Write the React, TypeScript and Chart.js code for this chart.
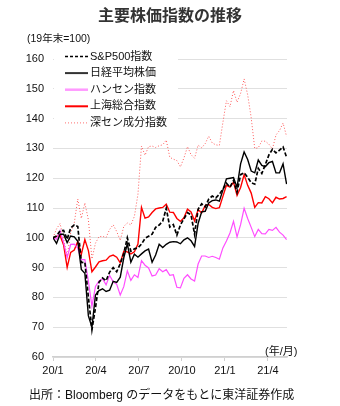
import React, { useEffect, useRef } from "react";
import { Chart, registerables } from "chart.js";

Chart.register(...registerables);

// x position of each point, in months after 2020/1 (about one point per week)
const STEP = 0.247;
const xTickValues = [0, 3, 6, 9, 12, 15];
const xTickLabels = ["20/1", "20/4", "20/7", "20/10", "21/1", "21/4"];

const seriesNames = ["S&P500指数", "日経平均株価", "ハンセン指数", "上海総合指数", "深セン成分指数"];

const sp500 = [100, 100.6, 102.3, 102.5, 99.5, 103.3, 104.3, 103.8, 91.7, 91.8,
  80, 69.2, 76.5, 85.1, 86.5, 85.6, 88.5, 90, 88.6, 91.3,
  94.8, 100, 95.5, 96.3, 96.6, 97.9, 99.8, 100.5, 101.2, 103.5,
  104.3, 105.6, 109.9, 103.6, 104.4, 100.9, 104.3, 106.4, 108.4, 107.7,
  101.2, 109.6, 111.4, 110.4, 113, 114, 113.4, 114.6, 116.3, 118.3,
  117, 119.2, 115.3, 121.2, 121.8, 120.3, 118.5, 118, 123.3, 121.6,
  124.6, 127.8, 129.7, 128.5, 129.4, 130.5, 127];

const nikkei = [100, 98.1, 101.2, 101.2, 98.4, 100.6, 100.3, 98.8, 89.4, 88.1,
  73.8, 70, 80.8, 82.3, 82.9, 82, 82.4, 85.4, 85, 86.8,
  93.3, 98, 91.8, 94.5, 93.5, 94.6, 95.6, 96.2, 91.8, 94.2,
  97.8, 96.7, 97.8, 98.5, 98.7, 98.6, 98, 99.3, 100, 99,
  97.1, 104.8, 108.7, 108.9, 111.7, 112.5, 112.7, 112.3, 116, 119.8,
  120, 120.2, 116.9, 124.8, 128.8, 126.3, 122.4, 121.8, 126.1, 124.3,
  123.9, 125.2, 125.6, 121.8, 121.8, 124.8, 118];

const hangSeng = [100, 99.5, 102.4, 98.4, 93.3, 97.8, 97.9, 96.5, 92.7, 92.7,
  85.5, 77, 83.7, 85.5, 86.3, 84.2, 87.4, 85.2, 84.4, 80.8,
  83.6, 88.9, 85.7, 87.6, 86.7, 92.3, 90.8, 89.9, 87.2, 87.5,
  89.6, 88.6, 89.3, 87.4, 87.6, 83.4, 83.2, 86.4, 87.6, 86.2,
  85.5, 91.2, 93.9, 93.9, 93.4, 93.8, 93.4, 92.8, 96.6, 98.9,
  101.6, 105.5, 100.3, 104.4, 109.9, 106.5, 103.5, 100.4, 102.8, 101.4,
  101.3, 102.8, 102.5, 103.5, 101.9, 100.9, 99.4];

const shanghai = [100, 100.5, 100.8, 97.6, 90.1, 95.1, 95.9, 98.8, 94.4, 99.4,
  95.7, 88.6, 90.2, 91.9, 92.3, 92.5, 93.8, 94.2, 93.5, 91.6,
  95.5, 95.3, 94.6, 95.3, 97.9, 110.2, 106.6, 107, 108.5, 109.7,
  110, 110.2, 111.3, 108.6, 108.5, 106.5, 105.5, 106.7, 109.6, 108.7,
  105.7, 109.4, 108.4, 110.8, 111.2, 110.2, 109.8, 110.1, 113.9, 117.6,
  117, 118.7, 114.2, 116.9, 121.2, 117.6, 115, 110.2, 111.8, 111.7,
  113.8, 113.1, 111.7, 113.6, 113, 113.2, 113.8];

const shenzhen = [100, 103, 104.8, 99.6, 93.8, 101.7, 104.9, 113, 106.5, 111.7,
  106, 92.9, 98.2, 100.4, 100.5, 100.1, 102.8, 104.4, 102.1, 99.1,
  103.8, 105, 104.3, 107.2, 114.6, 130.8, 127.7, 130.6, 130.8, 130.3,
  130.9, 131.2, 132.8, 127, 126.4, 125.9, 123.8, 126.8, 130.6, 127.9,
  126.7, 131.1, 130.2, 131.6, 134.1, 131.8, 131.2, 131, 138.7, 146,
  144, 149.4, 145.5, 148.4, 153.3, 148, 140.3, 130, 130.2, 132.5,
  132.4, 131.4, 129.8, 134.5, 136, 138.5, 134];

const seriesValues = [sp500, nikkei, hangSeng, shanghai, shenzhen];
const seriesColors = ["#000000", "#000000", "#ff4dff", "#ff0000", "#ff5a5a"];
const seriesWidths = [1.7, 1.4, 1.2, 1.4, 1];
const seriesDash: number[][] = [[4, 2], [], [], [], [1, 2]];
const legendWidths = [1.5, 2, 2.5, 2, 1];
const legendColors = ["#000000", "#333333", "#ff99ff", "#ff0000", "#ff7070"];

const FONT = '"Liberation Sans", Arial, "Noto Sans CJK JP", sans-serif';

const insideLegend = {
  id: "insideLegend",
  afterDatasetsDraw(chart: any) {
    const ctx = chart.ctx;
    const a = chart.chartArea;
    ctx.save();
    ctx.fillStyle = "#ffffff";
    ctx.fillRect(a.left + 1, 46, 177 - a.left, 85);
    ctx.font = `11px ${FONT}`;
    ctx.textBaseline = "middle";
    ctx.textAlign = "left";
    seriesNames.forEach((name, i) => {
      const y = 56.5 + i * 16.6;
      ctx.beginPath();
      ctx.strokeStyle = legendColors[i];
      ctx.lineWidth = legendWidths[i];
      ctx.setLineDash(i === 0 ? [3, 2] : seriesDash[i]);
      ctx.moveTo(65, y);
      ctx.lineTo(88, y);
      ctx.stroke();
      ctx.setLineDash([]);
      ctx.fillStyle = "#111111";
      ctx.fillText(name, 90, y);
    });
    ctx.restore();
  },
};

export default function App() {
  const ref = useRef<HTMLCanvasElement | null>(null);

  useEffect(() => {
    if (!ref.current) return;
    const datasets = seriesValues.map((vals, s) => ({
      label: seriesNames[s],
      data: vals.map((v, i) => ({ x: i * STEP, y: v })),
      borderColor: seriesColors[s],
      backgroundColor: seriesColors[s],
      borderWidth: seriesWidths[s],
      borderDash: seriesDash[s],
      pointRadius: 0,
      tension: 0,
      fill: false,
    }));
    const chart = new Chart(ref.current, {
      type: "line",
      data: { datasets },
      plugins: [insideLegend],
      options: {
        animation: false,
        responsive: false,
        devicePixelRatio: 1,
        layout: { padding: { top: 59, right: 53, left: 0, bottom: 29 } },
        plugins: { legend: { display: false }, tooltip: { enabled: false } },
        scales: {
          x: {
            type: "linear",
            min: 0,
            max: 16.33,
            afterBuildTicks: (scale: any) => {
              scale.ticks = xTickValues.map((v) => ({ value: v }));
            },
            afterFit: (scale: any) => {
              scale.height = 20;
            },
            grid: {
              display: true,
              drawOnChartArea: false,
              drawTicks: true,
              tickLength: 4,
              color: "#d0d0d0",
            },
            border: { display: true, color: "#d0d0d0", width: 1.5 },
            ticks: {
              autoSkip: false,
              maxRotation: 0,
              padding: 3,
              color: "#111111",
              font: { family: FONT, size: 11 },
              callback: (value: any) => {
                const k = xTickValues.indexOf(Number(value));
                return k >= 0 ? xTickLabels[k] : "";
              },
            },
          },
          y: {
            min: 60,
            max: 160,
            afterFit: (scale: any) => {
              scale.width = 53;
            },
            grid: { color: "#e0e0e0", drawTicks: false, lineWidth: 1 },
            border: { display: false },
            ticks: {
              stepSize: 10,
              padding: 9,
              color: "#111111",
              font: { family: FONT, size: 11 },
            },
          },
        },
      },
    });
    return () => chart.destroy();
  }, []);

  const base: React.CSSProperties = {
    position: "absolute",
    fontFamily: FONT,
    whiteSpace: "nowrap",
  };

  return (
    <div style={{ position: "absolute", left: 0, top: 0, width: 340, height: 406, background: "#fff" }}>
      <canvas ref={ref} width={340} height={406} style={{ position: "absolute", left: 0, top: 0, width: 340, height: 406 }} />
      <div style={{ ...base, left: 0, top: 4, width: 340, textAlign: "center", fontSize: 16, fontWeight: "bold", lineHeight: "24px", color: "#333" }}>
        主要株価指数の推移
      </div>
      <div style={{ ...base, left: 27, top: 31, fontSize: 10.5, lineHeight: "14px", color: "#111" }}>(19年末=100)</div>
      <div style={{ ...base, left: 265, top: 344, fontSize: 11, lineHeight: "14px", color: "#111" }}>(年/月)</div>
      <div style={{ ...base, left: 29, top: 387, fontSize: 12, lineHeight: "16px", color: "#111" }}>
        出所：Bloomberg のデータをもとに東洋証券作成
      </div>
    </div>
  );
}
